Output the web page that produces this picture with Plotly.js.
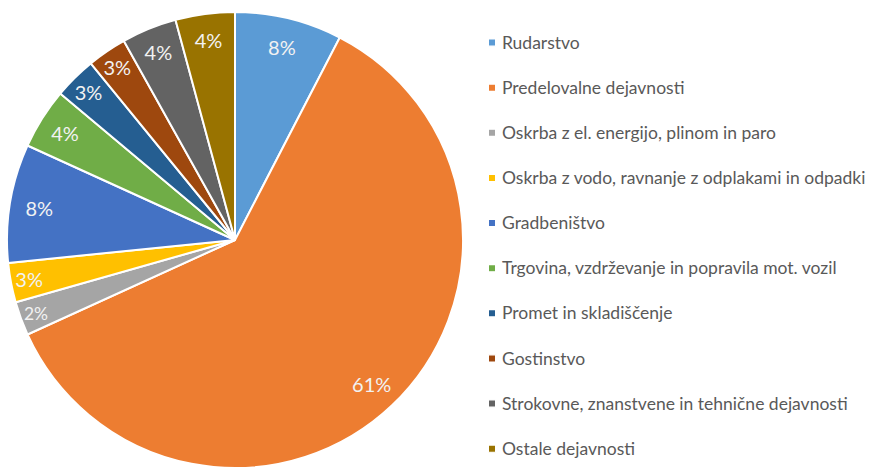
<!DOCTYPE html>
<html><head><meta charset="utf-8">
<script src="https://cdn.plot.ly/plotly-3.0.1.min.js"></script>
<style>
html,body{margin:0;padding:0;background:#fff;}
#chart{width:876px;height:472px;}
.legend .legendpoints path{transform: translate(30px,5px) scale(0.6);}
.legend .legendtext{transform: translate(0px,7px);}
</style></head><body><div id="chart"></div>
<script>
const categories = [
  "Rudarstvo",
  "Predelovalne dejavnosti",
  "Oskrba z el. energijo, plinom in paro",
  "Oskrba z vodo, ravnanje z odplakami in odpadki",
  "Gradbeništvo",
  "Trgovina, vzdrževanje in popravila mot. vozil",
  "Promet in skladiščenje",
  "Gostinstvo",
  "Strokovne, znanstvene in tehnične dejavnosti",
  "Ostale dejavnosti"
];
const shares = [7.6, 60.6, 2.4, 2.8, 8.4, 4.3, 3.0, 2.8, 3.9, 4.2];
const colors = ["#5B9BD5","#ED7D31","#A5A5A5","#FFC000","#4472C4","#70AD47","#255E91","#9E480E","#636363","#997300"];

const FONT = "Lato, 'Open Sans', sans-serif";
const legendLabels = categories.map(c => ' <br><span style="font-size:17.5px">' + c + '</span><br> ');
const pieDomain = {x:[7/876, 463/876], y:[0,1]};

const traces = [
  {
    type: 'pie',
    labels: legendLabels,
    values: shares,
    sort: false,
    direction: 'clockwise',
    rotation: 0,
    domain: pieDomain,
    marker: {colors: colors, line: {color: '#ffffff', width: 2}},
    textinfo: 'none',
    hoverinfo: 'skip',
    showlegend: true
  },
  {
    type: 'pie',
    labels: legendLabels,
    values: shares,
    sort: false,
    direction: 'clockwise',
    rotation: 0,
    domain: pieDomain,
    hole: 0.74,
    marker: {colors: categories.map(() => 'rgba(0,0,0,0)'), line: {width: 0}},
    texttemplate: '%{percent:.0%}',
    textposition: 'inside',
    insidetextorientation: 'horizontal',
    insidetextfont: {family: FONT, size: 20, color: '#f2f2f2'},
    hoverinfo: 'skip',
    showlegend: false
  }
];

const layout = {
  width: 876, height: 472,
  margin: {l: 0, r: 0, t: 12, b: 4},
  paper_bgcolor: '#ffffff',
  showlegend: true,
  legend: {
    x: 462/876, xanchor: 'left',
    y: 0.992, yanchor: 'top',
    maxheight: 472,
    font: {family: FONT, size: 10.8, color: '#595959'},
    bgcolor: 'rgba(0,0,0,0)'
  }
};

Plotly.newPlot('chart', traces, layout, {displayModeBar: false, staticPlot: true});
</script></body></html>
